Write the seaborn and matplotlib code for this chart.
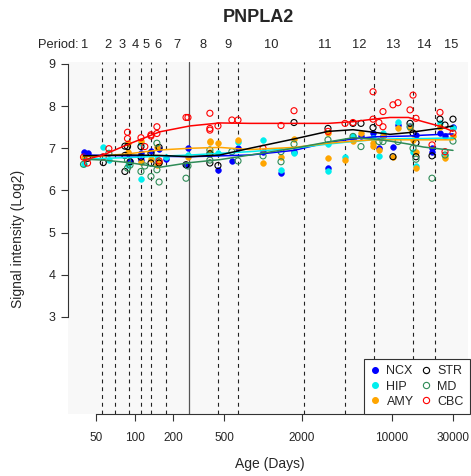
import numpy as np
import pandas as pd
import matplotlib
matplotlib.use("Agg")
import matplotlib.pyplot as plt
from matplotlib.ticker import NullLocator, FixedLocator, FixedFormatter
from matplotlib.lines import Line2D
import seaborn as sns

# ---------------- data ----------------
gene = "PNPLA2"
regions = ["NCX", "HIP", "AMY", "STR", "MD", "CBC"]
region_colors = ["#0000FF", "#00EEEE", "#FFA500", "#000000", "#2E8B57", "#FF0000"]
region_filled = [True, True, True, False, False, False]

period_names = ["1", "2", "3", "4", "5", "6", "7", "8", "9", "10", "11", "12", "13", "14", "15"]
period_bounds = [55.4, 70, 90.3, 112, 133, 174, 448, 634, 2090, 4310, 7290, 14580, 21740]
birth_day = 263

x_ticks = [50, 100, 200, 500, 2000, 10000, 30000]
y_ticks = [3, 4, 5, 6, 7, 8, 9]

ncx_age = [40, 43, 88, 92, 112, 112, 134, 155, 175, 260, 251, 445, 571, 637, 998, 1377, 1738,
           3194, 5000, 5770, 7160, 7960, 8560, 10230, 11200, 13890, 15460, 20600, 20600, 23770, 26000, 30000]
ncx_val = [6.92, 6.88, 6.88, 6.70, 6.88, 6.72, 6.94, 6.98, 6.74, 7.00, 6.61, 6.49, 6.70, 7.01, 6.90, 6.41, 6.92,
           6.53, 7.24, 7.30, 7.36, 7.00, 7.30, 7.04, 7.55, 7.51, 7.32, 6.92, 7.00, 7.37, 7.28, 7.51]

hip_age = [40, 57, 63, 88, 112, 112, 149, 175, 260, 445, 637, 998, 1377, 1738, 3194, 3194, 4333,
           5000, 7160, 7960, 8560, 11200, 14660, 15460, 23770, 26000, 30000]
hip_val = [6.62, 7.04, 6.72, 6.60, 7.13, 6.27, 6.75, 6.80, 6.84, 6.88, 7.15, 7.20, 6.49, 6.88, 7.10, 6.47, 6.80,
           7.29, 7.24, 6.82, 7.37, 7.63, 6.90, 6.58, 7.59, 6.84, 7.47]

amy_age = [40, 88, 88, 112, 112, 134, 149, 149, 155, 260, 385, 385, 385, 445, 637, 998, 1377, 1738,
           3194, 3194, 4333, 5000, 5770, 7160, 7160, 7960, 8560, 10230, 11200, 13890, 14660, 15460, 15460,
           23770, 26000, 30000]
amy_val = [6.80, 7.12, 6.92, 7.18, 6.68, 6.75, 7.04, 6.60, 6.68, 6.80, 7.18, 7.14, 6.90, 7.12, 7.20, 6.65, 6.80, 7.21,
           7.36, 6.76, 6.72, 7.18, 7.36, 7.12, 7.06, 6.96, 7.29, 6.80, 7.47, 7.47, 7.20, 6.90, 6.53,
           7.51, 6.76, 7.28]

str_age = [43, 57, 84, 88, 84, 84, 92, 112, 112, 134, 134, 155, 155, 251, 385, 385, 445, 1738, 3194,
           5000, 5770, 7160, 10230, 13890, 14660, 15460, 15460, 20600, 23770, 26000, 30000]
str_val = [6.76, 6.66, 7.05, 7.04, 6.83, 6.45, 6.68, 7.04, 6.79, 6.65, 6.88, 7.02, 6.65, 6.61, 6.87, 6.65, 6.59, 7.61, 7.47,
           7.59, 7.59, 7.49, 6.80, 7.59, 7.36, 7.13, 6.80, 6.82, 7.69, 7.55, 7.69]

md_age = [40, 63, 88, 88, 92, 112, 120, 134, 149, 149, 155, 251, 260, 385, 385, 571, 637, 998, 1377, 1377,
          1738, 3194, 5000, 5770, 7960, 8560, 11200, 13890, 14660, 15460, 20600, 26000, 30000]
md_val = [6.62, 6.88, 6.72, 6.53, 6.60, 6.45, 6.58, 6.33, 7.12, 6.49, 6.20, 6.29, 6.58, 6.96, 6.72, 6.92, 6.70, 6.82, 6.92, 6.68,
          7.10, 7.20, 7.28, 7.04, 7.16, 7.16, 7.16, 7.51, 7.00, 6.74, 6.29, 6.84, 7.17]

cbc_age = [40, 43, 57, 63, 88, 88, 112, 120, 134, 134, 149, 149, 155, 251, 260, 385, 385, 385, 445, 571, 637,
           998, 1377, 1738, 3194, 4333, 5000, 7160, 7160, 7960, 8560, 8560, 10230, 11200, 13890, 14660, 15460,
           20600, 23770, 26000, 30000]
cbc_val = [6.79, 6.65, 6.80, 6.99, 7.38, 7.23, 7.25, 7.04, 7.29, 7.32, 7.51, 7.35, 6.70, 7.73, 7.73, 7.83, 7.47, 7.43, 7.53, 7.67, 7.67,
           7.00, 7.54, 7.89, 7.40, 7.59, 7.61, 8.34, 7.69, 7.61, 7.87, 7.51, 8.03, 8.08, 7.91, 8.26, 7.71,
           7.08, 7.85, 6.92, 7.36]

curve_age = [40, 57, 90, 157, 270, 460, 790, 1740, 3200, 5000, 7200, 9700, 13500, 17600, 24500, 30000]
ncx_fit = [6.84, 6.83, 6.82, 6.81, 6.80, 6.82, 6.84, 6.95, 7.14, 7.22, 7.27, 7.28, 7.29, 7.31, 7.33, 7.34]
hip_fit = [6.74, 6.76, 6.78, 6.81, 6.84, 6.88, 6.92, 7.00, 7.10, 7.16, 7.20, 7.22, 7.23, 7.23, 7.24, 7.24]
amy_fit = [6.80, 6.82, 6.87, 6.96, 7.00, 7.02, 6.97, 7.02, 7.12, 7.17, 7.20, 7.20, 7.20, 7.20, 7.20, 7.20]
str_fit = [6.82, 6.83, 6.84, 6.83, 6.80, 6.84, 7.00, 7.22, 7.40, 7.44, 7.38, 7.33, 7.37, 7.42, 7.48, 7.53]
md_fit = [6.74, 6.72, 6.66, 6.55, 6.66, 6.73, 6.84, 7.00, 7.15, 7.25, 7.22, 7.17, 7.10, 7.03, 6.98, 6.95]
cbc_fit = [6.72, 6.84, 7.10, 7.39, 7.53, 7.60, 7.59, 7.59, 7.59, 7.63, 7.69, 7.73, 7.73, 7.63, 7.51, 7.40]

point_ages = [ncx_age, hip_age, amy_age, str_age, md_age, cbc_age]
point_vals = [ncx_val, hip_val, amy_val, str_val, md_val, cbc_val]
fit_vals = [ncx_fit, hip_fit, amy_fit, str_fit, md_fit, cbc_fit]

# ---------------- style ----------------
sns.set_style("ticks")
plt.rcParams["font.family"] = ["Liberation Sans", "DejaVu Sans"]

W, H = 471, 476
fig = plt.figure(figsize=(W / 100, H / 100), dpi=100)
ax_l, ax_r, ax_t, ax_b = 68, 468, 62, 414
ax = fig.add_axes([ax_l / W, 1 - ax_b / H, (ax_r - ax_l) / W, (ax_b - ax_t) / H])
ax.set_facecolor("#f8f8f8")
ax.set_xscale("log")
xlim = (30.3, 39260)
ax.set_xlim(*xlim)
ax.set_ylim(0.70, 9.045)

# period boundaries
for b in period_bounds:
    ax.axvline(b, color="#222222", lw=0.8, ls=(0, (3.5, 3.5)), zorder=1)
ax.axvline(birth_day, color="#555555", lw=0.9, zorder=1)

# points and smoothed curves
for name, c, filled, ages, vals in zip(regions, region_colors, region_filled,
                                       point_ages, point_vals):
    df = pd.DataFrame({"age": ages, "val": vals})
    if filled:
        sns.scatterplot(data=df, x="age", y="val", ax=ax, color=c, edgecolor=c,
                        s=17, linewidth=0.4, marker="o", zorder=3, legend=False)
    else:
        sns.scatterplot(data=df, x="age", y="val", ax=ax, color=c, facecolor="none",
                        edgecolor=c, s=19, linewidth=0.8, marker="o", zorder=3, legend=False)
for name, c, fit in zip(regions, region_colors, fit_vals):
    dfl = pd.DataFrame({"age": curve_age, "val": fit})
    sns.lineplot(data=dfl, x="age", y="val", ax=ax, color=c, lw=1.1, zorder=4, legend=False)

# axes styling (R-like)
for s in ["top", "right"]:
    ax.spines[s].set_visible(False)
ax.spines["left"].set_bounds(y_ticks[0], y_ticks[-1])
ax.spines["bottom"].set_bounds(x_ticks[0], x_ticks[-1])
for s in ["left", "bottom"]:
    ax.spines[s].set_linewidth(0.8)
    ax.spines[s].set_color("#333333")
ax.xaxis.set_major_locator(FixedLocator(x_ticks))
ax.xaxis.set_major_formatter(FixedFormatter([str(v) for v in x_ticks]))
ax.xaxis.set_minor_locator(NullLocator())
ax.set_yticks(y_ticks)
ax.set_yticklabels([str(v) for v in y_ticks])
ax.tick_params(axis="x", direction="out", length=5, width=0.8, pad=8, labelsize=8.5, color="#333333")
ax.tick_params(axis="y", direction="out", length=5, width=0.8, pad=4, labelsize=9, color="#333333")
ax.set_xlabel("")
ax.set_ylabel("")

# period labels
edges = [xlim[0]] + sorted(period_bounds + [birth_day]) + [xlim[1]]
trans = matplotlib.transforms.blended_transform_factory(ax.transData, ax.transAxes)
label_y = (ax_b - 45.5) / (ax_b - ax_t)
for i, lab in enumerate(period_names):
    mid = np.sqrt(edges[i] * edges[i + 1])
    ax.text(mid, label_y, lab, transform=trans, ha="center", va="center", fontsize=9.3, clip_on=False)
fig.text(79 / W, 1 - 45.5 / H, "Period:", ha="right", va="center", fontsize=9.3)

# titles
fig.text(258 / W, 1 - 17 / H, gene, ha="center", va="center", fontsize=13, fontweight="bold")
fig.text(270 / W, 1 - 464 / H, "Age (Days)", ha="center", va="center", fontsize=10)
fig.text(18 / W, 1 - 239 / H, "Signal intensity (Log2)", ha="center", va="center",
         rotation=90, fontsize=10)

# legend
handles = []
for name, c, filled in zip(regions, region_colors, region_filled):
    handles.append(Line2D([], [], ls="none", marker="o", markersize=4.2 if filled else 4.5,
                          markerfacecolor=c if filled else "none", markeredgecolor=c,
                          markeredgewidth=0.8, label=name))
leg = ax.legend(handles=handles, ncol=2, loc="lower right", bbox_to_anchor=(1.005, 0.0),
                borderaxespad=0, fontsize=9, frameon=True, fancybox=False,
                handlelength=0.8, handletextpad=0.5, columnspacing=0.6,
                labelspacing=0.25, borderpad=0.5)
leg.get_frame().set_edgecolor("#333333")
leg.get_frame().set_linewidth(0.8)
leg.get_frame().set_facecolor("white")
leg.get_frame().set_alpha(1)
leg.set_zorder(10)

fig.savefig("out.png", dpi=100)
